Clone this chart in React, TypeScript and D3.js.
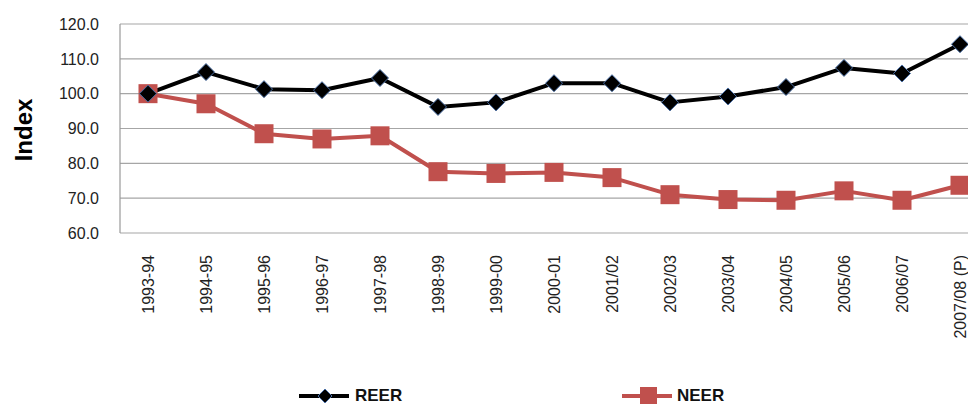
import React from 'react';
import { scaleBand, scaleLinear, line } from 'd3';

const categories = [
  '1993-94', '1994-95', '1995-96', '1996-97', '1997-98', '1998-99', '1999-00',
  '2000-01', '2001/02', '2002/03', '2003/04', '2004/05', '2005/06', '2006/07', '2007/08 (P)',
];
const reer = [100.0, 106.2, 101.3, 101.0, 104.5, 96.2, 97.5, 103.0, 103.0, 97.5, 99.2, 101.9, 107.4, 105.8, 114.2];
const neer = [100.0, 97.1, 88.5, 87.0, 87.9, 77.6, 77.1, 77.4, 75.9, 71.0, 69.6, 69.4, 72.1, 69.4, 73.7];
const yTicks = [60, 70, 80, 90, 100, 110, 120];

const W = 968;
const H = 406;
const plot = { left: 120, top: 24, bottom: 233, step: 58 };
const font = '"Liberation Sans", Arial, sans-serif';

export default function App() {
  const x = scaleBand<string>()
    .domain(categories)
    .range([plot.left - 1, plot.left - 1 + plot.step * categories.length]);
  const y = scaleLinear().domain([60, 120]).range([plot.bottom, plot.top]);
  const cx = (i: number) => x(categories[i])! + x.bandwidth() / 2;

  const path = line<number>()
    .x((_, i) => cx(i))
    .y(d => y(d));

  const diamond = (px: number, py: number, r: number) =>
    `M${px},${py - r}L${px + r},${py}L${px},${py + r}L${px - r},${py}Z`;

  return (
    <svg width={W} height={H} style={{ position: 'absolute', left: 0, top: 0, background: '#fff' }}>
      {yTicks.map(t => (
        <g key={t}>
          <line x1={plot.left} x2={W} y1={y(t)} y2={y(t)} stroke="#a6a6a6" strokeWidth={1.2} />
          <text x={99} y={y(t)} dy="0.36em" textAnchor="end" fontFamily={font} fontSize={16} fill="#222">
            {t.toFixed(1)}
          </text>
        </g>
      ))}
      <line x1={plot.left} x2={plot.left} y1={plot.top} y2={plot.bottom} stroke="#999" strokeWidth={1.2} />

      {categories.map((c, i) => (
        <text
          key={c}
          transform={`translate(${cx(i)},${plot.bottom + 22}) rotate(-90)`}
          dy="0.36em"
          textAnchor="end"
          fontFamily={font}
          fontSize={16}
          fill="#222"
        >
          {c}
        </text>
      ))}

      <text
        transform="translate(23,130) rotate(-90)"
        dy="0.36em"
        textAnchor="middle"
        fontFamily={font}
        fontSize={24}
        fontWeight="bold"
        fill="#000"
      >
        Index
      </text>

      <path d={path(neer)!} fill="none" stroke="#C0504D" strokeWidth={4} strokeLinejoin="round" />
      <path d={path(reer)!} fill="none" stroke="#000" strokeWidth={4} strokeLinejoin="round" />

      {neer.map((v, i) => (
        <rect key={'n' + i} x={cx(i) - 9.5} y={y(v) - 9.5} width={19} height={19} fill="#C0504D" />
      ))}
      {reer.map((v, i) => (
        <path key={'r' + i} d={diamond(cx(i), y(v), 8.5)} fill="#000" stroke="#4a6fa5" strokeWidth={1} />
      ))}

      {/* legend */}
      <line x1={299} x2={349} y1={396} y2={396} stroke="#000" strokeWidth={4} />
      <path d={diamond(325, 396, 7)} fill="#000" stroke="#4a6fa5" strokeWidth={1} />
      <text x={355} y={401} fontFamily={font} fontSize={17} fontWeight="bold" fill="#111">REER</text>

      <line x1={622} x2={672} y1={396} y2={396} stroke="#C0504D" strokeWidth={4} />
      <rect x={640} y={387} width={17} height={17} fill="#C0504D" />
      <text x={677} y={401} fontFamily={font} fontSize={17} fontWeight="bold" fill="#111">NEER</text>
    </svg>
  );
}
